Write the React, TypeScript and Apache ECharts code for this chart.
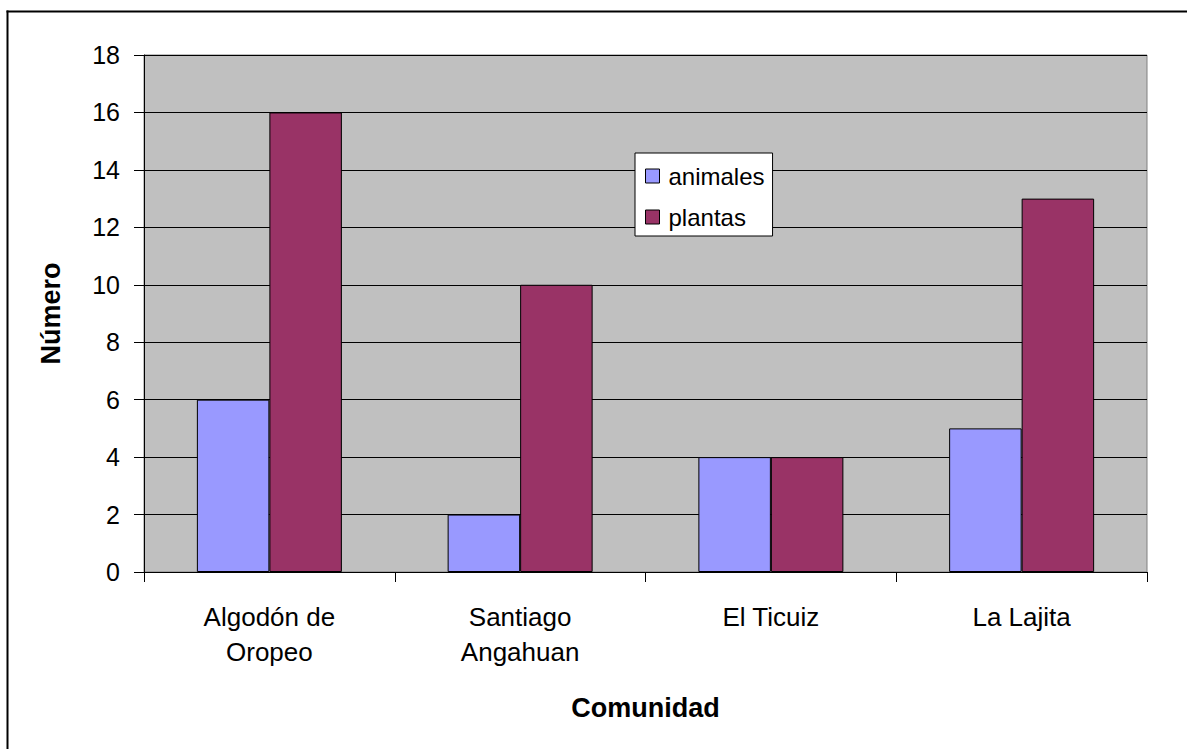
import React, { useEffect, useRef } from "react";
import * as echarts from "echarts";

const categories = ["Algodón de\nOropeo", "Santiago\nAngahuan", "El Ticuiz", "La Lajita"];
const animales = [6, 2, 4, 5];
const plantas = [16, 10, 4, 13];
const seriesNames = ["animales", "plantas"];
const yAxisTitle = "Número";
const xAxisTitle = "Comunidad";

const FONT = "Arial, 'Liberation Sans', sans-serif";

export default function App() {
  const ref = useRef<HTMLDivElement>(null);
  useEffect(() => {
    if (!ref.current) return;
    const chart = echarts.init(ref.current, null, { renderer: "svg" });
    chart.setOption({
      animation: false,
      backgroundColor: "#ffffff",
      graphic: [
        {
          type: "line",
          shape: { x1: 7.5, y1: 10.5, x2: 7.5, y2: 760 },
          style: { stroke: "#000", lineWidth: 2 },
          silent: true,
        },
        {
          type: "line",
          shape: { x1: 6.5, y1: 11.5, x2: 1190, y2: 11.5 },
          style: { stroke: "#000", lineWidth: 2 },
          silent: true,
        },
      ],
      grid: {
        left: 144,
        top: 55,
        width: 1003,
        height: 517,
        show: true,
        backgroundColor: "#c0c0c0",
        borderColor: "#808080",
        borderWidth: 1,
      },
      legend: {
        orient: "vertical",
        left: 635,
        top: 153,
        backgroundColor: "#ffffff",
        borderColor: "#000",
        borderWidth: 1,
        borderRadius: 0,
        padding: [11, 8, 7, 10],
        itemGap: 17,
        itemWidth: 14,
        itemHeight: 14,
        icon: "rect",
        itemStyle: { borderColor: "#000", borderWidth: 1 },
        textStyle: { fontFamily: FONT, fontSize: 24, color: "#000", padding: [0, 0, 0, 4] },
        data: seriesNames,
      },
      xAxis: {
        type: "category",
        data: categories,
        name: xAxisTitle,
        nameLocation: "middle",
        nameGap: 122,
        nameTextStyle: { fontFamily: FONT, fontSize: 27, fontWeight: "bold", color: "#000" },
        axisLine: { lineStyle: { color: "#000", width: 1 } },
        axisTick: { show: true, length: 10, lineStyle: { color: "#000" } },
        axisLabel: {
          interval: 0,
          fontFamily: FONT,
          fontSize: 26,
          lineHeight: 35,
          margin: 27,
          color: "#000",
        },
      },
      yAxis: {
        type: "value",
        min: 0,
        max: 18,
        interval: 2,
        name: yAxisTitle,
        nameLocation: "middle",
        nameGap: 80,
        nameRotate: 90,
        nameTextStyle: { fontFamily: FONT, fontSize: 27, fontWeight: "bold", color: "#000" },
        axisLine: { show: true, lineStyle: { color: "#000", width: 1 } },
        axisTick: { show: true, length: 10, lineStyle: { color: "#000" } },
        axisLabel: { fontFamily: FONT, fontSize: 25, margin: 24, color: "#000" },
        splitLine: { show: true, lineStyle: { color: "#000", width: 1 } },
      },
      series: [
        {
          name: seriesNames[0],
          type: "bar",
          data: animales,
          barWidth: 72.5,
          barGap: "0%",
          itemStyle: { color: "#9999ff", borderColor: "#000", borderWidth: 1 },
        },
        {
          name: seriesNames[1],
          type: "bar",
          data: plantas,
          barWidth: 72.5,
          barGap: "0%",
          itemStyle: { color: "#993366", borderColor: "#000", borderWidth: 1 },
        },
      ],
    });
    return () => chart.dispose();
  }, []);
  return (
    <div
      ref={ref}
      style={{ position: "absolute", left: 0, top: 0, width: 1187, height: 749, overflow: "hidden" }}
    />
  );
}
